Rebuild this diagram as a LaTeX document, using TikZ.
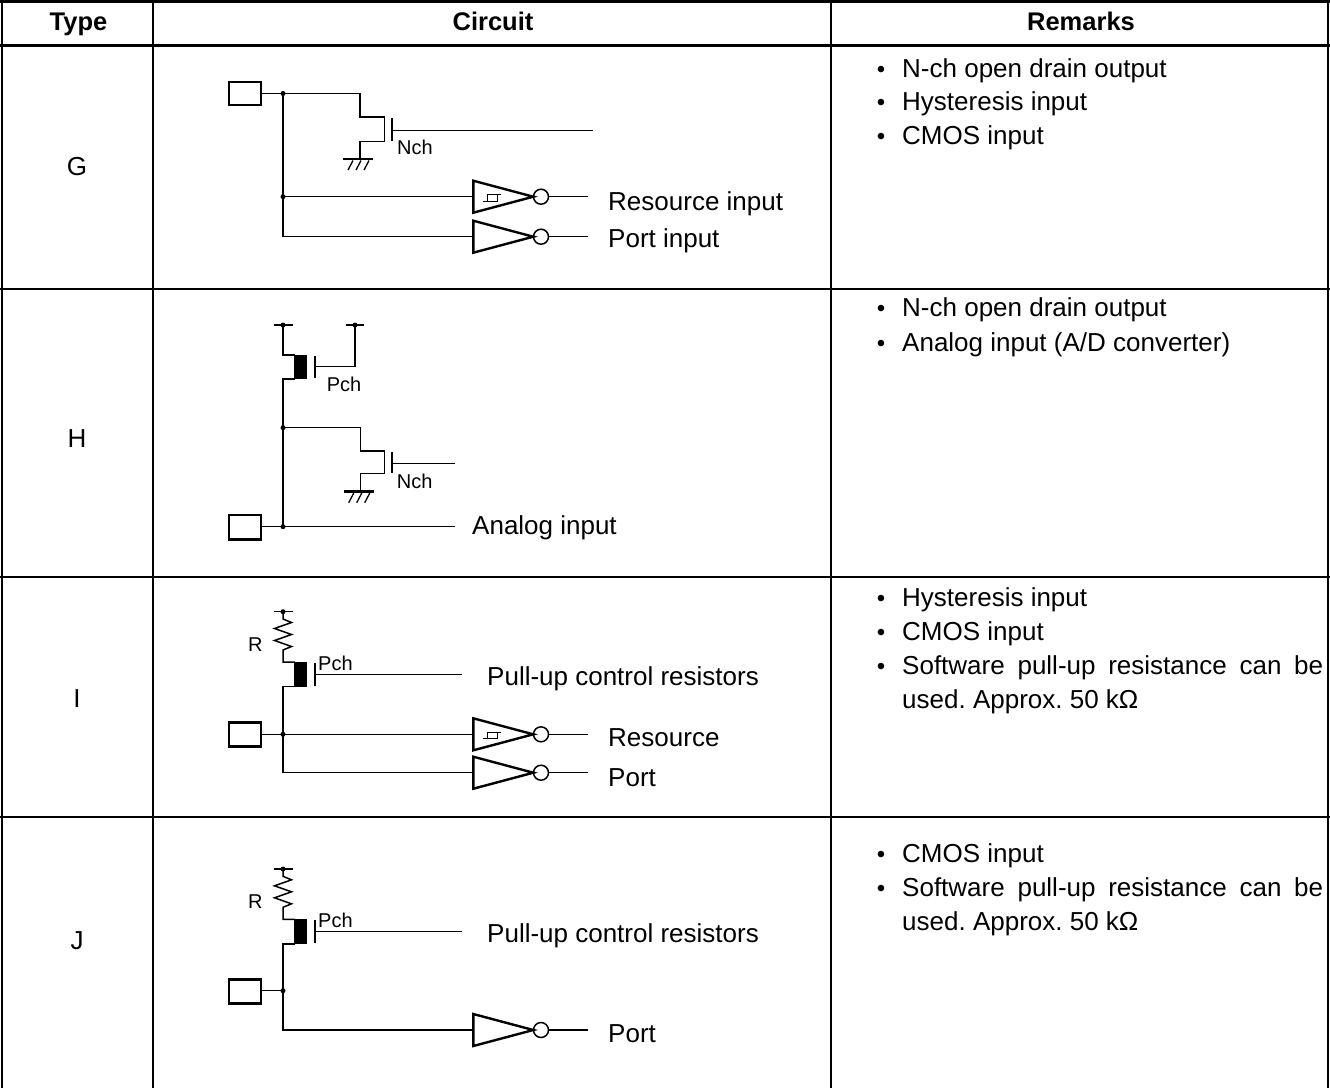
\documentclass[tikz,border=0pt]{standalone}
\usepackage{fontspec}
\setmainfont{Liberation Sans}
\frenchspacing
\begin{document}
\frenchspacing
\begin{tikzpicture}[x=1pt,y=-1pt,
  wire/.style={line width=1.5pt, line join=miter},
  tbl/.style={line width=2.8pt},
  padbox/.style={line width=2.7pt},
  gatebar/.style={line width=2.4pt},
  lbl/.style={font=\fontsize{26}{30}\selectfont, inner sep=0pt, anchor=base west},
  hdr/.style={font=\fontsize{25.5}{30}\selectfont\bfseries, inner sep=0pt, anchor=base},
  typ/.style={font=\fontsize{26}{30}\selectfont, inner sep=0pt, anchor=base},
  sml/.style={font=\fontsize{20}{24}\selectfont, inner sep=0pt, anchor=base west},
  bul/.style={font=\fontsize{24}{30}\selectfont, inner sep=0pt, anchor=base},
  dot/.style={circle, fill=black, inner sep=0pt, minimum size=5pt},
  pics/invbuf/.style={code={
    \draw[line width=2.4pt, line join=miter] (0,-16) -- (60,0) -- (0,16) -- cycle;
    \draw[wire] (67.7,0) circle[radius=7.5];
    \draw[wire] (75.2,0) -- (115,0);
  }},
  pics/hystbuf/.style={code={
    \draw[line width=2.4pt, line join=miter] (0,-16) -- (60,0) -- (0,16) -- cycle;
    \draw[wire] (67.7,0) circle[radius=7.5];
    \draw[wire] (75.2,0) -- (115,0);
    \draw[line width=1.3pt] (9.5,4.5) -- (24,4.5) -- (24,-2);
    \draw[line width=1.3pt] (14,4.5) -- (14,-2) -- (28,-2);
  }},
  pics/gnd/.style={code={
    \draw[line width=2.8pt] (-17,0) -- (13,0);
    \draw[line width=1.3pt] (-7,1.5) -- (-12,11) (1,1.5) -- (-4,11) (9,1.5) -- (4,11);
  }},
]
\useasboundingbox (0,0) rectangle (1330,1088);
\fill[white] (0,0) rectangle (1330,1088);

% ---------------- table ----------------
\draw[tbl] (0,1.5) -- (1330,1.5);
\draw[tbl] (0,45.7) -- (1330,45.7);
\draw[tbl] (0,289) -- (1330,289);
\draw[tbl] (0,577) -- (1330,577);
\draw[tbl] (0,817) -- (1330,817);
\draw[tbl] (2,0) -- (2,1088);
\draw[tbl] (153,0) -- (153,1088);
\draw[tbl] (831,0) -- (831,1088);
\draw[tbl] (1328,0) -- (1328,1088);

\node[hdr] (hType) at (78.5,30) {Type};
\node[hdr] (hCirc) at (493,30) {Circuit};
\node[hdr] (hRem) at (1081,30) {Remarks};

\node[typ] (tG) at (77,175) {G};
\node[typ] (tH) at (77,447) {H};
\node[typ] (tI) at (77,707) {I};
\node[typ] (tJ) at (77,949) {J};

% ---------------- remarks ----------------
\node[bul] (bG1) at (881,77.5) {\textbullet};
\node[lbl] (rG1) at (902,77.5) {N-ch open drain output};
\node[bul] (bG2) at (881,110.5) {\textbullet};
\node[lbl] (rG2) at (902,110.5) {Hysteresis input};
\node[bul] (bG3) at (881,144.5) {\textbullet};
\node[lbl] (rG3) at (902,144.5) {CMOS input};

\node[bul] (bH1) at (881,316.7) {\textbullet};
\node[lbl] (rH1) at (902,316.7) {N-ch open drain output};
\node[bul] (bH2) at (881,351) {\textbullet};
\node[lbl] (rH2) at (902,351) {Analog input (A/D converter)};

\node[bul] (bI1) at (881,606) {\textbullet};
\node[lbl] (rI1) at (902,606) {Hysteresis input};
\node[bul] (bI2) at (881,640) {\textbullet};
\node[lbl] (rI2) at (902,640) {CMOS input};
\node[bul] (bI3) at (881,674) {\textbullet};
\node[lbl] (rI3) at (902,674) {\makebox[421pt][s]{Software pull-up resistance can be}};
\node[lbl] (rI4) at (902,708.5) {used. Approx. 50 kΩ};

\node[bul] (bJ1) at (881,862.5) {\textbullet};
\node[lbl] (rJ1) at (902,862.5) {CMOS input};
\node[bul] (bJ2) at (881,896.5) {\textbullet};
\node[lbl] (rJ2) at (902,896.5) {\makebox[421pt][s]{Software pull-up resistance can be}};
\node[lbl] (rJ3) at (902,930.5) {used. Approx. 50 kΩ};

% ---------------- G circuit ----------------
\draw[padbox] (229,82) rectangle (261,105);
\coordinate (gPad) at (261,93.5);
\coordinate (gJ1) at (283,93.5);
\coordinate (gJ2) at (283,196.7);
\coordinate (gB) at (283,236.7);
\draw[wire] (gPad) -- (gJ1) -- (360,93.5) -- (360,117) -- (384.3,117) -- (384.3,141.7) -- (360,141.7) -- (360,159);
\pic at (360,159) {gnd};
\draw[gatebar] (391.7,118) -- (391.7,141);
\draw[wire] (391.7,130.5) -- (593,130.5);
\node[sml] (gN) at (397,154) {Nch};
\draw[wire] (gJ1) -- (gB) -- (473.3,236.7);
\draw[wire] (gJ2) -- (473.3,196.7);
\node[dot] at (gJ1) {};
\node[dot] at (gJ2) {};
\pic at (473.3,196.7) {hystbuf};
\pic at (473.3,236.7) {invbuf};
\node[lbl] (gRes) at (608,210.5) {Resource input};
\node[lbl] (gPort) at (608,247.5) {Port input};

% ---------------- H circuit ----------------
\draw[wire] (274,325) -- (292.7,325);
\draw[wire] (346,325) -- (364,325);
\node[dot] at (283,325) {};
\node[dot] at (355,325) {};
\draw[wire] (283,325) -- (283,354.8) -- (295,354.8);
\fill (294.3,354.8) rectangle (307.3,379);
\draw[gatebar] (315,355.7) -- (315,378.3);
\draw[wire] (315,366.7) -- (355,366.7) -- (355,325);
\node[sml] (hP) at (326.7,391.7) {Pch};
\draw[wire] (295,379) -- (283,379) -- (283,526.7);
\coordinate (hJ1) at (283,427.7);
\draw[wire] (hJ1) -- (360.7,427.7) -- (360.7,451) -- (384.3,451) -- (384.3,473.3) -- (360.7,473.3) -- (360.7,491.7);
\pic at (360.7,491.7) {gnd};
\draw[gatebar] (391.7,452) -- (391.7,473);
\draw[wire] (391.7,463.3) -- (455,463.3);
\node[sml] (hN) at (396.7,488.3) {Nch};
\draw[padbox] (229,515) rectangle (261,539.3);
\draw[wire] (261,526.7) -- (455,526.7);
\node[dot] at (hJ1) {};
\node[dot] at (283,526.7) {};
\node[lbl] (hAn) at (472,534.5) {Analog input};

% ---------------- I circuit ----------------
\begin{scope}
\draw[wire] (274,611.7) -- (292.7,611.7);
\node[dot] at (283,611.7) {};
\draw[wire] (283,611.7) -- (283,619) -- (291.5,622.5) -- (274.5,628.5) -- (291.5,634.5) -- (274.5,640.5) -- (291.5,646.5) -- (283,650) -- (283,662) -- (295,662);
\fill (294.3,662) rectangle (307.3,686.7);
\draw[gatebar] (315,662.7) -- (315,686);
\draw[wire] (315,674.3) -- (461.7,674.3);
\node[sml] (iP) at (318,670) {Pch};
\node[sml] (iR) at (248,651) {R};
\end{scope}
\draw[wire] (295,686.7) -- (283,686.7) -- (283,772.7) -- (473.3,772.7);
\draw[padbox] (229,722.7) rectangle (261,746.7);
\draw[wire] (261,734.3) -- (473.3,734.3);
\node[dot] at (283,734.3) {};
\pic at (473.3,734.3) {hystbuf};
\pic at (473.3,772.7) {invbuf};
\node[lbl] (iPull) at (487,685) {Pull-up control resistors};
\node[lbl] (iRes) at (608,746.7) {Resource};
\node[lbl] (iPort) at (608,786.7) {Port};

% ---------------- J circuit ----------------
\begin{scope}[shift={(0,257.3)}]
\draw[wire] (274,611.7) -- (292.7,611.7);
\node[dot] at (283,611.7) {};
\draw[wire] (283,611.7) -- (283,619) -- (291.5,622.5) -- (274.5,628.5) -- (291.5,634.5) -- (274.5,640.5) -- (291.5,646.5) -- (283,650) -- (283,662) -- (295,662);
\fill (294.3,662) rectangle (307.3,686.7);
\draw[gatebar] (315,662.7) -- (315,686);
\draw[wire] (315,674.3) -- (461.7,674.3);
\node[sml] (jP) at (318,670) {Pch};
\node[sml] (jR) at (248,651) {R};
\end{scope}
\draw[wire] (295,944) -- (283,944) -- (283,1030) -- (473.3,1030);
\draw[padbox] (229,979.3) rectangle (261,1003.3);
\draw[wire] (261,990.7) -- (283,990.7);
\node[dot] at (283,990.7) {};
\pic at (473.3,1030) {invbuf};
\node[lbl] (jPull) at (487,942.5) {Pull-up control resistors};
\node[lbl] (jPort) at (608,1042.5) {Port};

\end{tikzpicture}
\end{document}
